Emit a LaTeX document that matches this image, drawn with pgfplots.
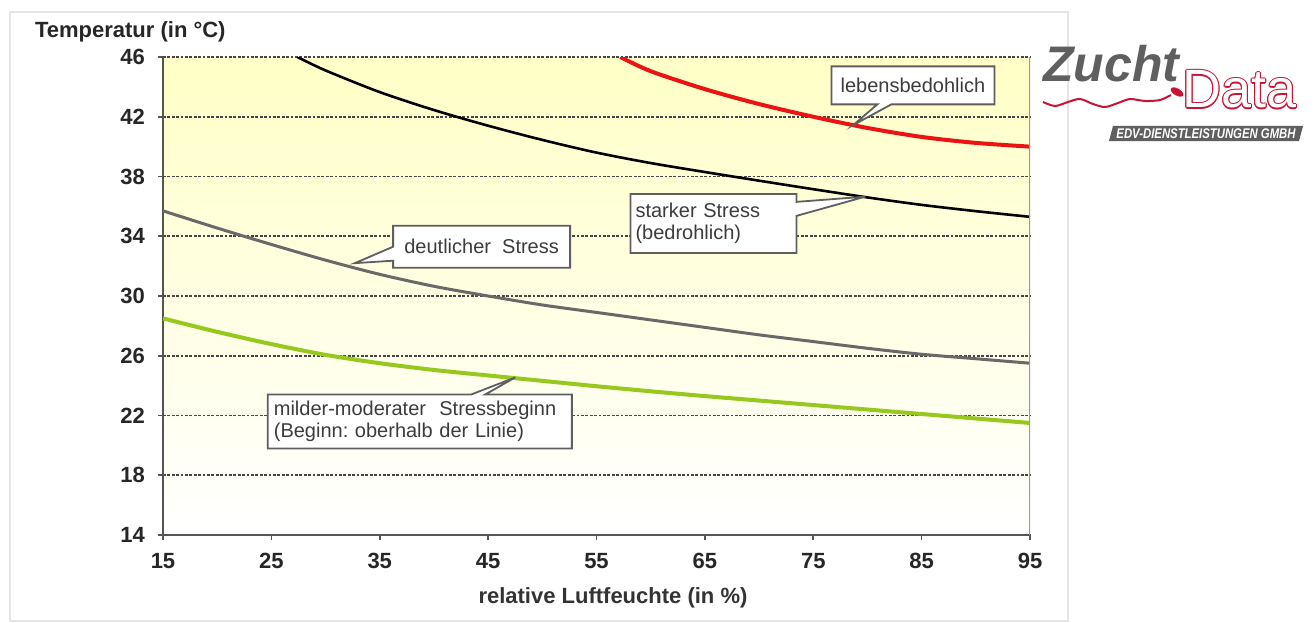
\documentclass[border=0pt]{standalone}
\usepackage{fontspec}
\setmainfont{Liberation Sans}
\usepackage{pgfplots}
\pgfplotsset{compat=1.18}
\usetikzlibrary{shapes.callouts}
\definecolor{bgyellow}{RGB}{255,255,198}
\definecolor{bgmid}{RGB}{255,255,222}
\definecolor{axisgray}{RGB}{85,85,85}
\definecolor{gridgray}{RGB}{70,70,70}
\definecolor{boxgray}{RGB}{95,95,95}
\definecolor{textgray}{RGB}{60,60,60}
\definecolor{cred}{RGB}{235,20,20}
\definecolor{cgray}{RGB}{105,105,105}
\definecolor{cgreen}{RGB}{150,200,30}
\definecolor{logogray}{RGB}{95,95,95}
\definecolor{logored}{RGB}{200,20,50}
\tikzset{mycallout/.style={rectangle callout, draw=boxgray, fill=white, line width=0.9pt,
    font=\fontsize{10}{11}\selectfont, text=textgray, align=left, callout pointer width=7pt}}
\begin{document}
\begin{tikzpicture}
\path[use as bounding box] (-81.5pt,-43.5pt) rectangle (576.5pt,267.5pt);
\begin{axis}[
  scale only axis, width=433.5pt, height=239pt,
  xmin=15, xmax=95, ymin=14, ymax=46,
  xtick={15,25,...,95}, ytick={14,18,...,46},
  axis x line*=bottom, axis y line*=left,
  axis line style={-, draw=axisgray, line width=1pt},
  tick align=outside, major tick length=2.5pt,
  tick style={axisgray, line width=0.8pt},
  ymajorgrids,
  grid style={dash pattern=on 1.4pt off 0.8pt, line width=0.9pt, gridgray},
  axis background/.style={top color=bgyellow, middle color=bgmid, bottom color=white},
  /pgf/number format/assume math mode=true,
  ticklabel style={font=\bfseries\fontsize{11}{13}\selectfont, text=black!85},
  xticklabel style={yshift=-3pt},
  yticklabel style={xshift=-3pt},
  xlabel={relative Luftfeuchte (in \%)},
  xlabel style={font=\bfseries\fontsize{11}{13}\selectfont, text=black!80, at={(rel axis cs:0.519,-0.132)}, anchor=center},
  ylabel={Temperatur (in °C)},
  ylabel style={font=\bfseries\fontsize{11}{13}\selectfont, text=black!85, rotate=-90, at={(rel axis cs:-0.1557,1.052)}, anchor=west},
]
% lebensbedrohlich (red)
\addplot[cred, line width=2pt, smooth] coordinates {
 (57.2,46) (60,45.05) (65,43.85) (70,42.85) (75,42.0) (80,41.25) (85,40.65) (90,40.25) (95,40.0)};
% starker Stress (black)
\addplot[black, line width=1.3pt, smooth] coordinates {
 (27.4,46) (30,45.1) (35,43.65) (40,42.45) (45,41.4) (50,40.45) (55,39.6) (60,38.9) (65,38.3) (70,37.72) (75,37.15) (80,36.6) (85,36.1) (90,35.68) (95,35.3)};
% deutlicher Stress (gray)
\addplot[cgray, line width=1.5pt, smooth] coordinates {
 (15,35.7) (20,34.55) (25,33.45) (30,32.4) (35,31.45) (40,30.65) (45,30.0) (50,29.4) (55,28.9) (60,28.4) (65,27.9) (70,27.4) (75,26.95) (80,26.5) (85,26.1) (90,25.8) (95,25.5)};
% milder-moderater Stressbeginn (green)
\addplot[cgreen, line width=2pt, smooth] coordinates {
 (15,28.5) (20,27.6) (25,26.78) (30,26.06) (35,25.5) (40,25.05) (45,24.68) (50,24.32) (55,23.96) (60,23.62) (65,23.3) (70,23.0) (75,22.7) (80,22.4) (85,22.1) (90,21.8) (95,21.5)};
\draw[gray!80, line width=0.9pt] (rel axis cs:1,0) -- (rel axis cs:1,1);
\node[mycallout, minimum width=81.5pt, minimum height=19pt, callout absolute pointer={(axis cs:78.7,41.45)}] at (axis cs:84.2,44.1) {lebensbedohlich};
\node[mycallout, text width=78pt, minimum height=29.5pt, inner xsep=2.5pt, callout absolute pointer={(axis cs:79.8,36.65)}] at (axis cs:65.8,34.85) {starker Stress\\(bedrohlich)};
\node[mycallout, minimum width=88.5pt, minimum height=21pt, callout absolute pointer={(axis cs:32.7,32.2)}] at (axis cs:44.4,33.3) {deutlicher\ \ Stress};
\node[mycallout, text width=146pt, minimum height=27pt, inner xsep=3pt, callout absolute pointer={(axis cs:47.5,24.55)}] at (axis cs:38.7,21.6) {milder-moderater\ \ Stressbeginn\\(Beginn:\ oberhalb\ der\ Linie)};
\end{axis}
% decoration: frame and logo, in pixel units of the reference
\begin{scope}[x=0.5pt, y=-0.5pt, shift={(-163,-535)}]
\draw[gray!20, line width=0.6pt] (10,12) rectangle (1068,621);
\node[anchor=base west, inner sep=0pt, font=\fontsize{25}{25}\selectfont\bfseries\itshape, text=logogray] at (1043,82) {Zucht};
\foreach \dx/\dy in {0.7/0,-0.7/0,0/0.7,0/-0.7,0.5/0.5,-0.5/0.5,0.5/-0.5,-0.5/-0.5}
  \node[anchor=base west, inner sep=0pt, font=\fontsize{27}{27}\selectfont, text=logored, xshift=\dx pt, yshift=\dy pt] at (1182,108) {Data};
\node[anchor=base west, inner sep=0pt, font=\fontsize{27}{27}\selectfont, text=white] at (1182,108) {Data};
\draw[logored, line width=1pt] plot[smooth] coordinates {(1043,102) (1055,106) (1068,102) (1080,99) (1093,104) (1105,107) (1118,103) (1130,99) (1145,101) (1160,100) (1171,95)};
\fill[logored, rotate around={-30:(1177,92)}] (1177,92) ellipse (7 and 3.5);
\fill[logogray] (1113,126) -- (1303,126) -- (1299,141) -- (1109,141) -- cycle;
\node[inner sep=0pt, text=white, font=\fontsize{7}{7}\selectfont\bfseries\itshape] at (1206,134) {\scalebox{0.81}[1]{EDV-DIENSTLEISTUNGEN GMBH}};
\end{scope}
\end{tikzpicture}
\end{document}
